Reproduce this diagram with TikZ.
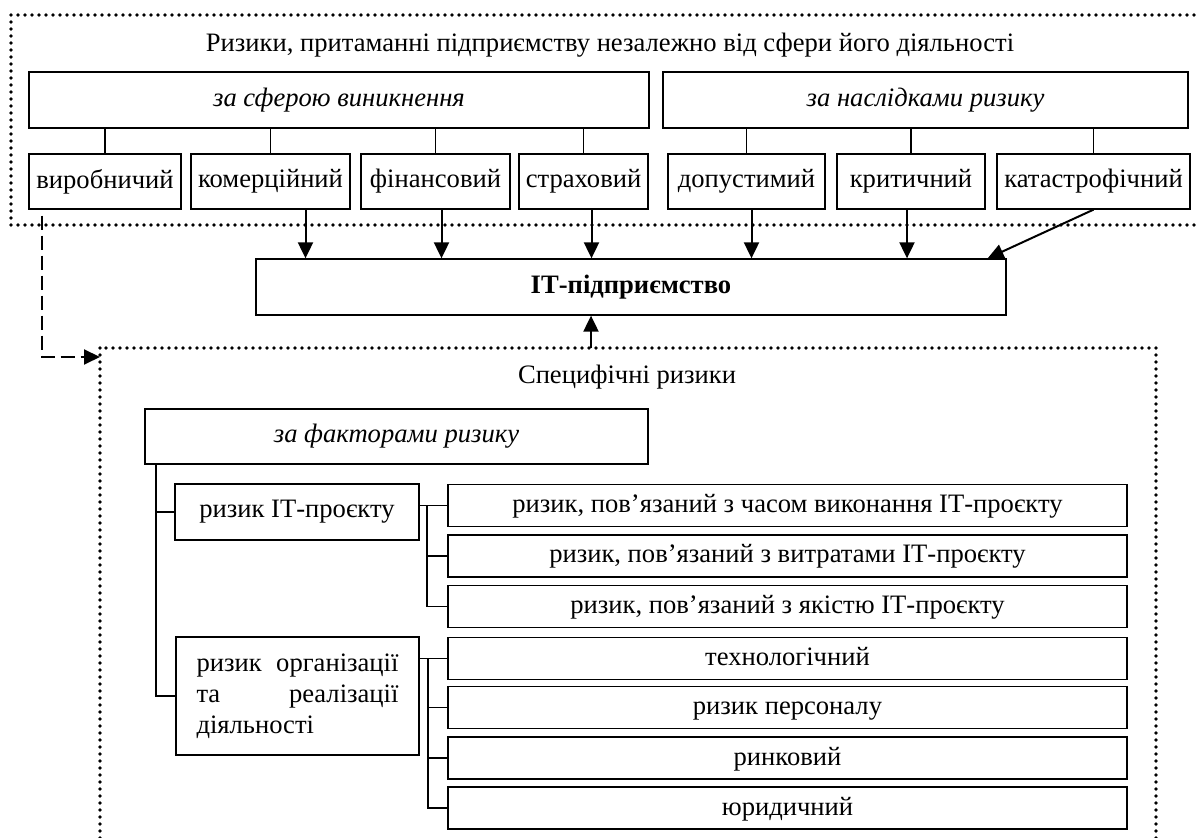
\documentclass[tikz,border=0pt]{standalone}
\usepackage{fontspec}
\setmainfont{Liberation Serif}
\usetikzlibrary{arrows.meta,calc}

\begin{document}
\begin{tikzpicture}[x=0.5pt,y=-0.5pt,
    font=\fontsize{13.3}{15.5}\selectfont,
    box/.style={draw,line width=0.65pt,inner sep=0pt},
    link/.style={line width=0.9pt},
    arr/.style={-{Triangle[length=8pt,width=7.5pt]},line width=1pt},
    dots/.style={line width=1.8pt,dash pattern=on 0pt off 3.5pt,line cap=round}]
            \clip (0,0) rectangle (1198,838);
            % common risks
            \draw[dots] (11,15) rectangle (1215,225);
            \node[name=title] at (610,45) {Ризики, притаманні підприємству незалежно від сфери його діяльності};
            \node[box,minimum width=310pt,minimum height=28pt,name=sfera] at (339,100) {\itshape за сферою виникнення};
            \node[box,minimum width=262.5pt,minimum height=28pt,name=nasl] at (925.5,100) {\itshape за наслідками ризику};
            \foreach \x/\w/\name/\txt in {105/152/vyr/виробничий,270.5/159/kom/комерційний,435.5/149/fin/фінансовий,583.5/129/str/страховий,746.5/157/dop/допустимий,911/148/kryt/критичний,1093.5/193/kat/катастрофічний}{
                \node[box,minimum width=\w*0.5pt,minimum height=27.5pt,name=\name] at (\x,181.5) {\txt};
            }
            \foreach \name in {vyr,kom,fin,str} {
                \draw[link] (\name.north) -- (\name.north |- sfera.south);
            }
            \foreach \name in {dop,kryt,kat} {
                \draw[link] (\name.north) -- (\name.north |- nasl.south);
            }
            % enterprise
            \node[box,minimum width=375pt,minimum height=28pt,name=it] at (631,287) {\bfseries ІТ-підприємство};
            \foreach \name/\dx in {kom/35,fin/6,str/8,dop/5,kryt/-4} {
                \draw[arr] ($(\name.south)+(\dx,0)$) coordinate (a) -- (a |- it.north);
            }
            \draw[arr] (kat.south) -- ([xshift=-9.5pt]it.north east);
            % specific risks
            \draw[dots] (100,348) rectangle (1156,870);
            \coordinate (spin) at (100,357);
            \coordinate (up) at (591,348);
            \draw[arr,dash pattern=on 7pt off 3pt] ($(vyr.south)+(-63,6)$) |- (spin);
            \draw[arr] (up) -- (up |- it.south);
            \node[name=spec] at (627,377) {Специфічні ризики};
            \node[box,minimum width=251.5pt,minimum height=27.5pt,name=factor] at (396.5,436.5) {\itshape за факторами ризику};
            \node[box,minimum width=122pt,minimum height=28pt,name=itp] at (297,512) {ризик ІТ-проєкту};
            \node[box,minimum width=121.5pt,minimum height=59pt,text width=101pt,align=left,name=org] at (297.5,696) {ризик\hfill організації\\та\hfill реалізації\\діяльності};
            \foreach \y/\name/\txt in {505.5/c1/{ризик, пов’язаний з часом виконання ІТ-проєкту},556/c2/{ризик, пов’язаний з витратами ІТ-проєкту},606.5/c3/{ризик, пов’язаний з якістю ІТ-проєкту},658.5/t1/технологічний,707.5/t2/ризик персоналу,758/t3/ринковий,808/t4/юридичний}{
                \node[box,minimum width=339.5pt,minimum height=21pt,text height=9pt,text depth=2pt,name=\name] at (787.5,\y) {\txt};
            }
            % brackets
            \coordinate (v) at ($(factor.south west)+(12,0)$);
            \draw[link] (v) |- (org.west);
            \draw[link] (v |- itp.west) -- (itp.west);
            \draw[link] (itp.east |- c1.west) -- (c1.west);
            \coordinate (b1) at ($(itp.east |- c1.west)+(7,0)$);
            \draw[link] (b1) |- (c3.west);
            \draw[link] (b1 |- c2.west) -- (c2.west);
            \draw[link] (org.east |- t1.west) -- (t1.west);
            \coordinate (b2) at ($(org.east |- t1.west)+(8,0)$);
            \draw[link] (b2) |- (t4.west);
            \foreach \name in {t2,t3} {
                \draw[link] (b2 |- \name.west) -- (\name.west);
            }
        \end{tikzpicture}
\end{document}
